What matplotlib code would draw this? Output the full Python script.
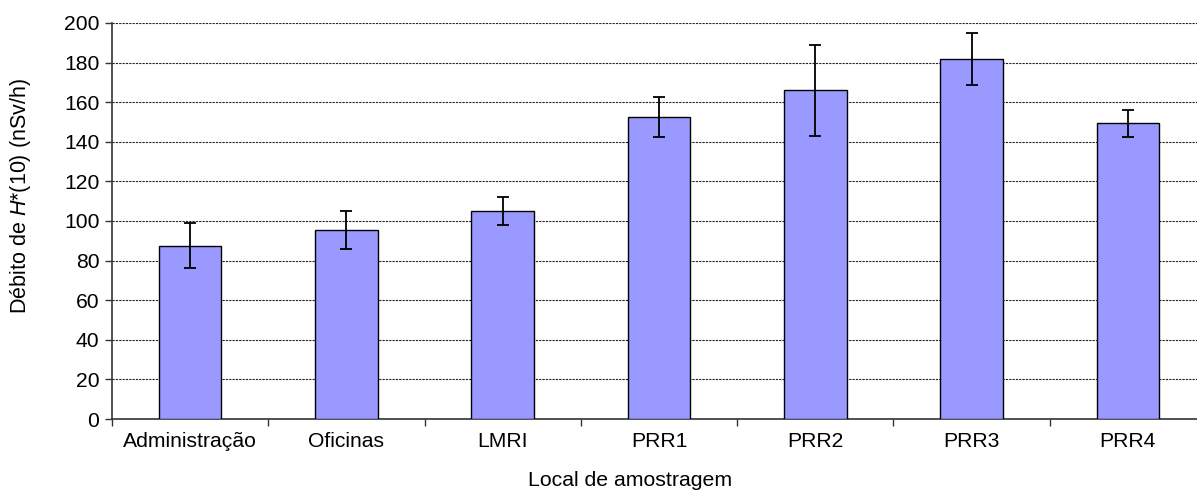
import numpy as np
import matplotlib.pyplot as plt

plt.rcParams['font.family'] = ['Liberation Sans', 'DejaVu Sans']
plt.rcParams['mathtext.fontset'] = 'custom'
plt.rcParams['mathtext.rm'] = 'Liberation Sans'
plt.rcParams['mathtext.it'] = 'Liberation Sans:italic'

locais = ['Administração', 'Oficinas', 'LMRI', 'PRR1', 'PRR2', 'PRR3', 'PRR4']
debito = [87.5, 95.6, 105.1, 152.5, 166.0, 181.7, 149.3]
incerteza = [11.4, 9.5, 7.0, 10.0, 23.0, 13.0, 7.0]

fs = 15.2

fig = plt.figure(figsize=(11.97, 4.9), dpi=100)
# plot area runs past the right edge, as in the cropped original
ax = fig.add_axes([112 / 1197, 71 / 490, 1094 / 1197, 396 / 490])

x = np.arange(len(locais))
ax.bar(x, debito, width=0.4, color='#9999FF', edgecolor='black', linewidth=1.0, zorder=3)
ax.errorbar(x, debito, yerr=incerteza, fmt='none', ecolor='black',
            elinewidth=1.3, capsize=4.5, capthick=1.3, zorder=4)

ax.set_xlim(-0.5, len(locais) - 0.5)
ax.set_ylim(0, 200)
ax.set_yticks(np.arange(0, 201, 20))
ax.yaxis.grid(True, color='#222222', linestyle=(0, (2, 1)), linewidth=0.8, zorder=0)

ax.set_xticks(x)
ax.set_xticklabels(locais)
ax.set_xticks(np.arange(-0.5, len(locais), 1), minor=True)
ax.tick_params(axis='x', which='major', length=0, pad=9, labelsize=fs)
ax.tick_params(axis='x', which='minor', length=5, width=1, color='#333333')
ax.tick_params(axis='y', length=5, width=1, color='#333333', pad=4, labelsize=fs)

for side in ['top', 'right']:
    ax.spines[side].set_visible(False)
ax.spines['left'].set_color('#333333')
ax.spines['bottom'].set_color('#333333')
ax.spines['left'].set_linewidth(1.2)
ax.spines['bottom'].set_linewidth(1.2)

fig.text(21 / 1197, 1 - 196 / 490, 'Débito de $\\mathit{H}$*(10) (nSv/h)',
         rotation=90, ha='center', va='center', fontsize=15.5)
fig.text(630 / 1197, 1 - 480 / 490, 'Local de amostragem',
         ha='center', va='center', fontsize=15.3)

fig.savefig('out.png', dpi=100)
